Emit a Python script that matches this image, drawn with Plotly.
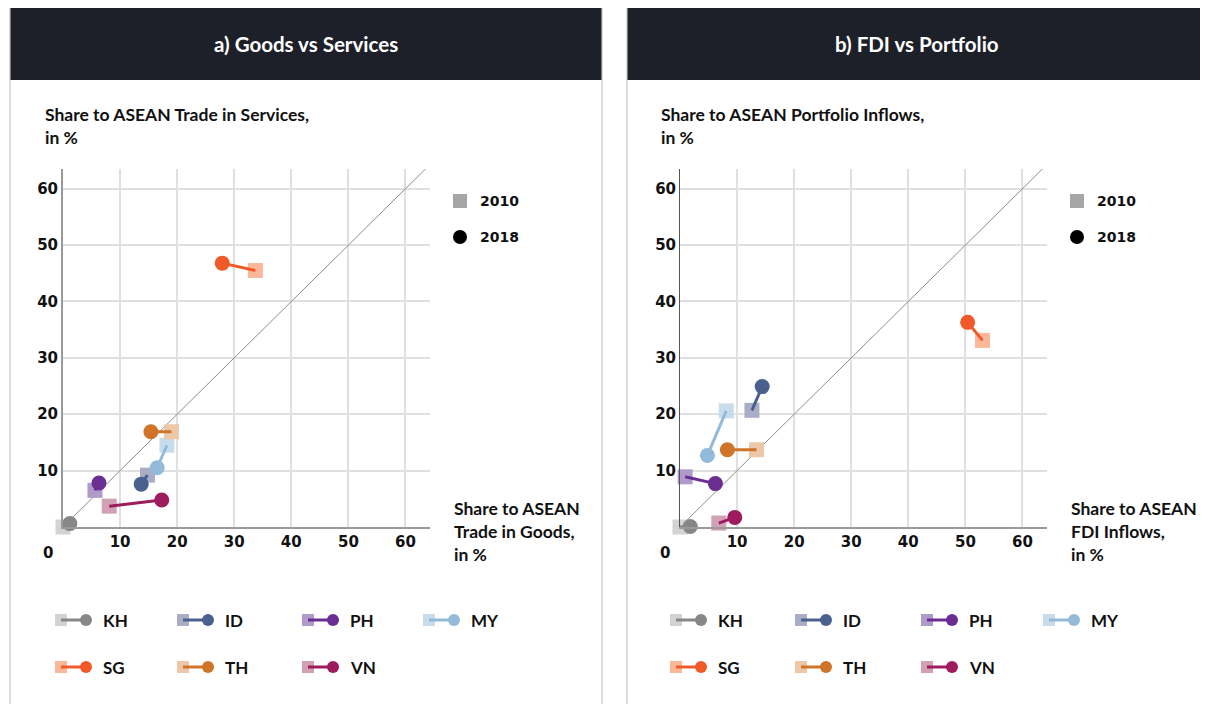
import plotly.graph_objects as go

# page body has an 8px margin; the figure is sized to fill the rest of the window
OFF = 8
W, H = 1208 - OFF, 704 - OFF

countries = ["KH", "ID", "PH", "MY", "SG", "TH", "VN"]
color_2010 = ["#d3d3d3", "#a9aec6", "#b09acb", "#c8dcec", "#fbb898", "#ecc8a8", "#d1a0b3"]
color_2018 = ["#878787", "#4a6190", "#6a2d91", "#93bbd9", "#f05a28", "#cf7428", "#9e1b5e"]

# Panel a: Goods (x) vs Services (y), share to ASEAN, %
goods_2010 = [0.0, 14.8, 5.6, 18.2, 33.7, 19.0, 8.1]
services_2010 = [0.0, 9.2, 6.5, 14.5, 45.5, 16.9, 3.7]
goods_2018 = [1.2, 13.7, 6.3, 16.5, 27.9, 15.4, 17.3]
services_2018 = [0.6, 7.6, 7.8, 10.5, 46.8, 16.9, 4.8]

# Panel b: FDI (x) vs Portfolio (y), share to ASEAN inflows, %
fdi_2010 = [0.0, 12.6, 0.9, 8.1, 53.0, 13.4, 6.8]
port_2010 = [0.0, 20.7, 8.9, 20.6, 33.1, 13.7, 0.7]
fdi_2018 = [1.8, 14.4, 6.2, 4.8, 50.4, 8.3, 9.6]
port_2018 = [0.1, 24.9, 7.7, 12.7, 36.3, 13.7, 1.7]

tick_vals = [10, 20, 30, 40, 50, 60]
panel_titles = ["a) Goods vs Services", "b) FDI vs Portfolio"]
y_titles = ["Share to ASEAN Trade in Services,<br>in %", "Share to ASEAN Portfolio Inflows,<br>in %"]
x_titles = ["Share to ASEAN<br>Trade in Goods,<br>in %", "Share to ASEAN<br>FDI Inflows,<br>in %"]
year_labels = ["2010", "2018"]

TXT = "Lato"
NUM = "DejaVu Sans"


def px(x):
    return (x - OFF) / W


def py(y):
    return 1 - (y - OFF) / H


fig = go.Figure()

panels = [
    dict(xa="x", ya="y", x0=63, x1=430, gx=(goods_2010, services_2010, goods_2018, services_2018),
         left=10, right=602, center=306, legx=[55, 177, 302, 423], keyx=453, titlex=43, xtitlex=452),
    dict(xa="x2", ya="y2", x0=680, x1=1047, gx=(fdi_2010, port_2010, fdi_2018, port_2018),
         left=627, right=1215, center=917, legx=[670, 795, 921, 1043], keyx=1070, titlex=659, xtitlex=1069),
]

shapes = []
annotations = []

for pi, p in enumerate(panels):
    x10, y10, x18, y18 = p["gx"]
    # diagonal 45-degree reference
    fig.add_trace(go.Scatter(x=[0, 64], y=[0, 64], mode="lines", line=dict(color="#8c8c8c", width=1),
                             xaxis=p["xa"], yaxis=p["ya"], showlegend=False, hoverinfo="skip"))
    for i, c in enumerate(countries):
        fig.add_trace(go.Scatter(x=[x10[i]], y=[y10[i]], mode="markers", cliponaxis=False,
                                 marker=dict(symbol="square", size=15, color=color_2010[i]),
                                 xaxis=p["xa"], yaxis=p["ya"], showlegend=False, name=c + " 2010"))
        fig.add_trace(go.Scatter(x=[x10[i], x18[i]], y=[y10[i], y18[i]], mode="lines", cliponaxis=False,
                                 line=dict(color=color_2018[i], width=3),
                                 xaxis=p["xa"], yaxis=p["ya"], showlegend=False, hoverinfo="skip"))
        fig.add_trace(go.Scatter(x=[x18[i]], y=[y18[i]], mode="markers", cliponaxis=False,
                                 marker=dict(symbol="circle", size=15, color=color_2018[i]),
                                 xaxis=p["xa"], yaxis=p["ya"], showlegend=False, name=c + " 2018"))

    # panel frame and header
    shapes.append(dict(type="rect", xref="paper", yref="paper", x0=px(p["left"]), x1=px(p["right"]),
                       y0=py(712), y1=py(7.5), line=dict(color="#d4d4d4", width=1.5), fillcolor="rgba(0,0,0,0)",
                       layer="below"))
    shapes.append(dict(type="rect", xref="paper", yref="paper", x0=px(p["left"] + 0.5), x1=px(p["right"] - 0.5),
                       y0=py(80), y1=py(8), line=dict(width=0), fillcolor="#1e2029", layer="below"))
    annotations.append(dict(text="<b>" + panel_titles[pi] + "</b>", xref="paper", yref="paper",
                            x=px(p["center"]), y=py(44),
                            xanchor="center", yanchor="middle", showarrow=False,
                            font=dict(family=TXT, size=20.5, color="white")))
    # axis titles
    annotations.append(dict(text="<b>" + y_titles[pi] + "</b>", xref="paper", yref="paper",
                            x=px(p["titlex"]), y=py(126), xanchor="left", yanchor="middle", align="left",
                            showarrow=False, font=dict(family=TXT, size=17.5, color="#111")))
    annotations.append(dict(text="<b>" + x_titles[pi] + "</b>", xref="paper", yref="paper",
                            x=px(p["xtitlex"]), y=py(531), xanchor="left", yanchor="middle", align="left",
                            showarrow=False, font=dict(family=TXT, size=17.5, color="#111")))
    # origin label
    annotations.append(dict(text="<b>0</b>", xref="paper", yref="paper", x=px(p["x0"] - 8), y=py(553),
                            xanchor="right", yanchor="middle", showarrow=False,
                            font=dict(family=NUM, size=15, color="#111")))
    # year key
    kx = p["keyx"]
    shapes.append(dict(type="rect", xref="paper", yref="paper", x0=px(kx), x1=px(kx + 14),
                       y0=py(208), y1=py(194), line=dict(width=0), fillcolor="#a6a6a6"))
    shapes.append(dict(type="circle", xref="paper", yref="paper", x0=px(kx), x1=px(kx + 14),
                       y0=py(244), y1=py(230), line=dict(width=0), fillcolor="#000000"))
    for k, yy in enumerate([201, 237]):
        annotations.append(dict(text="<b>" + year_labels[k] + "</b>", xref="paper", yref="paper",
                                x=px(kx + 25), y=py(yy), xanchor="left", yanchor="middle", showarrow=False,
                                font=dict(family=NUM, size=14, color="#111")))
    # country legend
    for i, c in enumerate(countries):
        sx = p["legx"][i % 4]
        cy = 620 if i < 4 else 667
        shapes.append(dict(type="rect", xref="paper", yref="paper", x0=px(sx), x1=px(sx + 12),
                           y0=py(cy + 6), y1=py(cy - 6), line=dict(width=0), fillcolor=color_2010[i]))
        shapes.append(dict(type="line", xref="paper", yref="paper", x0=px(sx + 6), x1=px(sx + 31),
                           y0=py(cy), y1=py(cy), line=dict(width=3, color=color_2018[i])))
        shapes.append(dict(type="circle", xref="paper", yref="paper", x0=px(sx + 25), x1=px(sx + 37),
                           y0=py(cy + 6), y1=py(cy - 6), line=dict(width=0), fillcolor=color_2018[i]))
        annotations.append(dict(text="<b>" + c + "</b>", xref="paper", yref="paper",
                                x=px(sx + 46), y=py(cy), xanchor="left", yanchor="middle", showarrow=False,
                                font=dict(family=TXT, size=17, color="#111")))

axis_common = dict(range=[0, 64.3], tickvals=tick_vals, showgrid=True, gridcolor="#e0e0e0", gridwidth=1.5,
                   zeroline=False, showline=True, ticks="", ticklen=0,
                   tickfont=dict(family=NUM, size=15, color="#111", weight="bold"), fixedrange=True)
yaxis_common = dict(range=[0, 63.5], tickvals=tick_vals, showgrid=True, gridcolor="#e0e0e0", gridwidth=1.5,
                    zeroline=False, showline=True, ticks="",
                    tickfont=dict(family=NUM, size=15, color="#111", weight="bold"), fixedrange=True)

ydom = [py(527), py(169)]

fig.update_layout(
    width=W, height=H, margin=dict(l=0, r=0, t=0, b=0),
    paper_bgcolor="white", plot_bgcolor="white", showlegend=False,
    xaxis=dict(axis_common, domain=[px(63), px(430)], anchor="y", linecolor="#9a9a9a", linewidth=2),
    yaxis=dict(yaxis_common, domain=ydom, anchor="x", linecolor="#9a9a9a", linewidth=2),
    xaxis2=dict(axis_common, domain=[px(680), px(1047)], anchor="y2", linecolor="#9a9a9a", linewidth=2),
    yaxis2=dict(yaxis_common, domain=ydom, anchor="x2", linecolor="#555555", linewidth=1),
    shapes=shapes, annotations=annotations,
)

fig.write_html("out.html")
